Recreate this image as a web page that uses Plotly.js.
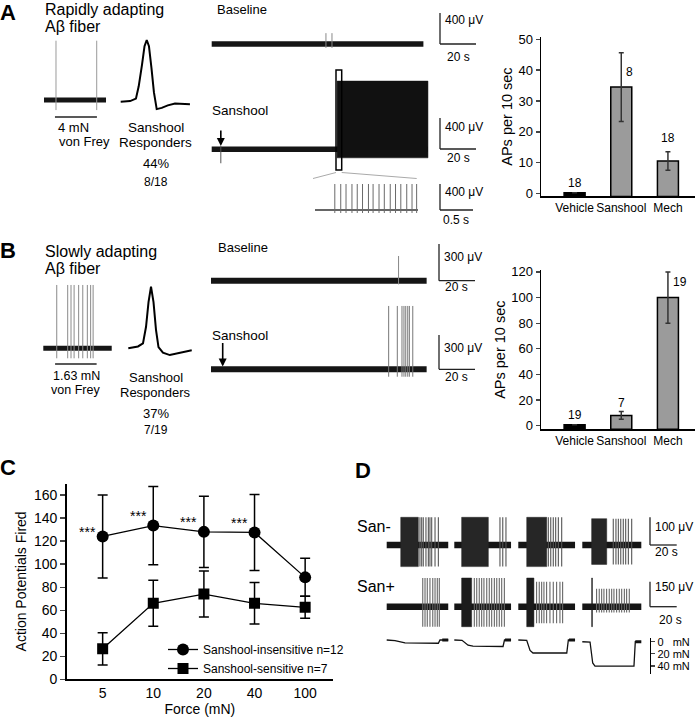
<!DOCTYPE html>
<html><head><meta charset="utf-8">
<script src="https://cdn.plot.ly/plotly-3.0.1.min.js"></script>
<style>html,body{margin:0;padding:0;background:#fff}#chart{width:695px;height:720px}</style>
</head><body><div id="chart"></div>
<script>
// ================= DATA =================
// Bar charts (A, B)
const barCats = ['Vehicle', 'Sanshool', 'Mech'];
const aAPs = [0.3, 34.5, 10.6];
const aErr = [0, 11.1, 3.0];
const aN = ['18', '8', '18'];
const bAPs = [0.8, 8, 100];
const bErr = [0, 3, 20];
const bN = ['19', '7', '19'];

// Line chart (C)
const forceCats = ['5', '10', '20', '40', '100'];
const insensMean = [124, 133.5, 128, 127.5, 88.5];
const insensErr = [36, 34, 31, 33, 16.5];
const sensMean = [26.5, 66, 74, 66, 62.5];
const sensErr = [14, 20, 20, 18, 9.5];
const sigMarks = ['***', '***', '***', '***'];

// A recordings (time in s, amplitude in uV)
const aVfDur = 3.0, aVfSpikes = [0.58, 2.55], aVfStim = [0.53, 2.56];
const aVfTop = 765, aVfBot = -130;
const aWaveT = [0, 0.34, 0.55, 0.65, 0.77, 0.86, 0.94, 1.02, 1.11, 1.2, 1.3, 1.48, 1.7, 1.96, 2.5];   // ms
const aWaveV = [0, 0.01, 0.05, 0.25, 0.6, 0.9, 1.0, 0.9, 0.55, 0.15, -0.12, -0.1, -0.06, -0.03, -0.04]; // normalised
const aBaseDur = 116, aBaseSpikes = [62.6, 65.9], aBaseTop = 140, aBaseBot = -50;
const aSanDur = 118.5, aSanOnset = 68.7, aSanTop = 880, aSanBot = -110;
const aSanApplied = 5.0, aSanArtifact = -180;
const aZoomDur = 1.56;
const aZoomSpikes = [0.30, 0.39, 0.47, 0.56, 0.64, 0.72, 0.81, 0.88, 0.97, 1.05, 1.14, 1.22, 1.30, 1.39, 1.47, 1.54];
const aZoomTop = 400, aZoomBot = -46;

// B recordings
const bVfDur = 3.31, bVfSpikes = [0.65, 1.18, 1.34, 1.49, 1.71, 1.91, 2.13, 2.29, 2.41], bVfStim = [0.57, 2.58];
const bVfTop = 817, bVfBot = -129;
const bWaveT = [0, 0.35, 0.53, 0.64, 0.73, 0.82, 0.91, 1.0, 1.09, 1.25, 1.5, 1.79, 2.05, 2.29];
const bWaveV = [0, 0.03, 0.08, 0.35, 0.75, 1.0, 0.75, 0.3, 0.02, -0.07, -0.11, -0.08, -0.05, -0.03];
const bBaseDur = 119.8, bBaseSpikes = [104.2], bBaseTop = 202, bBaseBot = -30;
const bSanDur = 119.8, bSanSpikes = [98.7, 103.5, 106.1, 107.2, 108.2, 109.3, 110.2, 112.1];
const bSanTop = 554, bSanBot = -65, bSanApplied = 6.5;

// D recordings (4 trials: 5, 10, 20, 40 mN)
const dDur = [46.1, 42.5, 42.5, 44.2];
const dNegBurst = [[10.5, 23.7], [5.5, 25.5], [6.3, 21.3], [7.0, 18.3]];
const dNegSpikes = [
  [24.9, 26.2, 27.4, 29.4, 31.2, 32.4, 33.7, 36.2, 38.7],
  [34.2, 36.3, 38.7],
  [22.5, 24.3, 26.2, 28.0, 30.0, 32.5],
  [23.2, 25.2, 27.0, 28.8, 30.7, 32.5, 34.5, 37.0]];
const dNegTop = [100, 100, 100, 95], dNegBot = [-78, -78, -78, -70];
const dPosBurst = [null, [5.5, 13.0], [6.3, 11.7], [7.0, 7.6]];
const dPosSpikes = [
  [27.0, 28.7, 30.4, 32.4, 34.5, 36.2, 37.9, 39.4],
  [15.0, 16.8, 18.7, 20.5, 22.2, 24.3, 26.2, 28.0, 30.0, 31.8, 33.7, 35.5, 37.5],
  [13.7, 15.7, 17.5, 19.2, 21.2, 23.7, 26.2, 28.7, 31.2, 33.2],
  [10.7, 12.7, 14.5, 16.2, 18.2, 20.2, 22.0, 23.7, 25.7, 27.7, 29.5, 31.5, 33.2, 35.2]];
const dPosTop = [172, 172, 150, 108], dPosBot = [-120, -120, -100, -35];
const dPosBurstTop = [0, 172, 172, 172], dPosBurstBot = [0, -120, -120, -120];
const dForceT = [
  [0, 6.2, 13.7, 38.7, 39.9, 46.1],
  [0, 5.8, 10.3, 14.0, 36.5, 37.6, 42.5],
  [0, 6.3, 8.8, 11.0, 36.3, 37.5, 42.5],
  [0, 5.8, 7.8, 9.5, 38.7, 39.7, 44.0]];
const dForceV = [
  [0, 1, 4.5, 5, 0, 0],
  [0, 0.5, 8, 9.5, 10, 0, 0],
  [0, 0.5, 16, 20, 20, 0, 0],
  [0, 0.5, 35, 40, 40, 0, 0]];
const forceTicks = [0, 20, 40];
const forceTickText = ['0\u00a0\u00a0\u00a0mN', '20 mN', '40 mN'];

// ================= LAYOUT HELPERS =================
const W = 695, H = 720;
const FONT = 'Liberation Sans, Arial, Helvetica, sans-serif';
const fx = p => p / W, fy = p => 1 - p / H;
const layout = {
  width: W, height: H, margin: {l: 0, r: 0, t: 0, b: 0},
  paper_bgcolor: '#fff', plot_bgcolor: 'rgba(0,0,0,0)',
  font: {family: FONT, color: '#000', size: 13},
  showlegend: true, shapes: [], annotations: []
};
const data = [];
let axCount = 3;
function makeAxes(bx, by) {
  axCount++; const n = axCount;
  layout['xaxis' + n] = {domain: [fx(bx.p0), fx(bx.p1)], range: [(bx.p0 - bx.o) / bx.s, (bx.p1 - bx.o) / bx.s],
    visible: false, fixedrange: true, anchor: 'y' + n};
  layout['yaxis' + n] = {domain: [fy(by.p1), fy(by.p0)], range: [(by.o - by.p1) / by.s, (by.o - by.p0) / by.s],
    visible: false, fixedrange: true, anchor: 'x' + n};
  return {x: 'x' + n, y: 'y' + n, n: n};
}
function line(ax, x, y, color, w) {
  data.push({type: 'scatter', mode: 'lines', xaxis: ax.x, yaxis: ax.y, x: x, y: y,
    line: {color: color, width: w}, showlegend: false, hoverinfo: 'skip', connectgaps: false});
}
function band(ax, dur, w) { line(ax, [0, dur], [0, 0], '#151515', w); }
function spikes(ax, times, top, bot, color, w) {
  const x = [], y = [];
  times.forEach(t => { x.push(t, t, null); y.push(bot, top, null); });
  line(ax, x, y, color, w);
}
function burst(ax, t0, t1, top, bot, color) {
  data.push({type: 'scatter', mode: 'lines', xaxis: ax.x, yaxis: ax.y,
    x: [t0, t1, t1, t0, t0], y: [bot, bot, top, top, bot], fill: 'toself', fillcolor: color,
    line: {color: color, width: 0.5}, showlegend: false, hoverinfo: 'skip'});
}
function txt(s, x, y, size, anchor, extra) {
  layout.annotations.push(Object.assign({text: s, xref: 'paper', yref: 'paper', x: fx(x), y: fy(y),
    xanchor: anchor || 'left', yanchor: 'middle', showarrow: false,
    font: {family: FONT, size: size, color: '#000'}}, extra || {}));
}
function seg(x0, y0, x1, y1, color, w) {
  layout.shapes.push({type: 'line', xref: 'paper', yref: 'paper', x0: fx(x0), y0: fy(y0), x1: fx(x1), y1: fy(y1),
    line: {color: color || '#222', width: w || 1.3}});
}
function scaleBar(x, yTop, yBot, xRight, vLabel, hLabel, vy, hx, hy) {
  seg(x, yTop, x, yBot); seg(x, yBot, xRight, yBot);
  txt(vLabel, x + 3, vy, 12, 'left');
  txt(hLabel, hx, hy, 12, 'center');
}

// ================= PANEL A / B BAR CHARTS =================
const A_BASE = -0.87, B_BASE = -2.8;
const axisCommon = {showline: true, linecolor: '#000', linewidth: 1.5, showgrid: false, zeroline: false, fixedrange: true};
layout.xaxis = Object.assign({}, axisCommon, {domain: [fx(541), fx(695)], range: [-0.72, 2.58], anchor: 'y',
  ticks: '', tickfont: {size: 12}});
layout.yaxis = Object.assign({}, axisCommon, {domain: [fy(196.4), fy(36.7)], range: [A_BASE, 50.8], anchor: 'x',
  tickvals: [0, 10, 20, 30, 40, 50], ticks: 'outside', ticklen: 4, tickwidth: 1.3, tickfont: {size: 13},
  title: {text: 'APs per 10 sec', font: {size: 14.5}, standoff: 2}});
layout.xaxis2 = Object.assign({}, axisCommon, {domain: [fx(541), fx(695)], range: [-0.72, 2.58], anchor: 'y2',
  ticks: '', tickfont: {size: 12}});
layout.yaxis2 = Object.assign({}, axisCommon, {domain: [fy(429.3), fy(270)], range: [B_BASE, 121.5], anchor: 'x2',
  tickvals: [0, 20, 40, 60, 80, 100, 120], ticks: 'outside', ticklen: 4, tickwidth: 1.3, tickfont: {size: 13},
  title: {text: 'APs per 10 sec', font: {size: 14.5}, standoff: 2}});

const barColors = ['#000', '#9b9b9b', '#9b9b9b'];
data.push({type: 'bar', x: barCats, y: aAPs.map(v => v - A_BASE), base: A_BASE, xaxis: 'x', yaxis: 'y',
  width: 0.45, marker: {color: barColors, line: {color: '#000', width: 1.5}},
  error_y: {type: 'data', array: aErr, color: '#333', thickness: 1.5, width: 2.5},
  showlegend: false, hoverinfo: 'skip'});
data.push({type: 'bar', x: barCats, y: bAPs.map(v => v - B_BASE), base: B_BASE, xaxis: 'x2', yaxis: 'y2',
  width: 0.45, marker: {color: barColors, line: {color: '#000', width: 1.5}},
  error_y: {type: 'data', array: bErr, color: '#333', thickness: 1.5, width: 2.5},
  showlegend: false, hoverinfo: 'skip'});
// n labels
const aLab = [{y: aAPs[0] + aErr[0], dy: 10, dx: 0}, {y: aAPs[1], dy: 15, dx: 8}, {y: aAPs[2] + aErr[2], dy: 13.5, dx: 0}];
const bLab = [{y: bAPs[0] + bErr[0], dy: 10, dx: 0}, {y: bAPs[1] + bErr[1], dy: 9, dx: 0}, {y: bAPs[2], dy: 16, dx: 12}];
aN.forEach((s, i) => layout.annotations.push({text: s, xref: 'x', yref: 'y', x: i, y: aLab[i].y, yshift: aLab[i].dy,
  xshift: aLab[i].dx, showarrow: false, font: {size: 12}, yanchor: 'middle'}));
bN.forEach((s, i) => layout.annotations.push({text: s, xref: 'x2', yref: 'y2', x: i, y: bLab[i].y, yshift: bLab[i].dy,
  xshift: bLab[i].dx, showarrow: false, font: {size: 12}, yanchor: 'middle'}));

// ================= PANEL C =================
layout.xaxis3 = Object.assign({}, axisCommon, {domain: [fx(66.7), fx(333)], range: [-0.71, 4.55], anchor: 'y3',
  type: 'category', ticks: '', tickfont: {size: 14}, title: {text: 'Force (mN)', font: {size: 14}, standoff: 4}});
layout.yaxis3 = Object.assign({}, axisCommon, {domain: [fy(679.3), fy(483.5)], range: [0, 170], anchor: 'x3',
  tickvals: [0, 20, 40, 60, 80, 100, 120, 140, 160], ticks: 'outside', ticklen: 5, tickwidth: 1.3,
  tickfont: {size: 14}, title: {text: 'Action Potentials Fired', font: {size: 14}, standoff: 4}});
data.push({type: 'scatter', mode: 'lines+markers', name: 'Sanshool-insensitive n=12', x: forceCats, y: insensMean,
  xaxis: 'x3', yaxis: 'y3', line: {color: '#000', width: 1.3}, marker: {symbol: 'circle', size: 12, color: '#000'},
  error_y: {type: 'data', array: insensErr, color: '#000', thickness: 1.5, width: 5}, hoverinfo: 'skip'});
data.push({type: 'scatter', mode: 'lines+markers', name: 'Sanshool-sensitive n=7', x: forceCats, y: sensMean,
  xaxis: 'x3', yaxis: 'y3', line: {color: '#000', width: 1.3}, marker: {symbol: 'square', size: 11, color: '#000'},
  error_y: {type: 'data', array: sensErr, color: '#000', thickness: 1.5, width: 5}, hoverinfo: 'skip'});
layout.legend = {x: fx(163), y: fy(635), xanchor: 'left', yanchor: 'top', bgcolor: 'rgba(0,0,0,0)',
  font: {size: 12, family: FONT}, tracegroupgap: 0};
const sigY = [128, 142, 136.5, 135.5];
sigMarks.forEach((s, i) => layout.annotations.push({text: s, xref: 'x3', yref: 'y3', x: i, y: sigY[i], xshift: -15,
  showarrow: false, font: {size: 14}, yanchor: 'middle'}));

// ================= PANEL A traces =================
const GS = 1 / 12.9; // px per uV for A large recordings
const axAvf = makeAxes({p0: 40, p1: 110, o: 44, s: 20.67}, {p0: 30, p1: 125, o: 100, s: GS});
band(axAvf, aVfDur, 5);
spikes(axAvf, aVfSpikes, aVfTop, aVfBot, '#9a9a9a', 1);
layout.shapes.push({type: 'line', xref: axAvf.x, yref: 'paper', x0: aVfStim[0], x1: aVfStim[1], y0: fy(117), y1: fy(117), line: {color: '#222', width: 1.3}});
const axAw = makeAxes({p0: 115, p1: 195, o: 120.7, s: 27.7}, {p0: 30, p1: 125, o: 101.7, s: 61.7});
line(axAw, aWaveT, aWaveV, '#000', 2);

const axAb = makeAxes({p0: 205, p1: 432, o: 211.7, s: 1.825}, {p0: 20, p1: 60, o: 44, s: GS});
band(axAb, aBaseDur, 5.5);
spikes(axAb, aBaseSpikes, aBaseTop, aBaseBot, '#888', 1);
const axAs = makeAxes({p0: 205, p1: 432, o: 211.7, s: 1.825}, {p0: 70, p1: 175, o: 149.3, s: GS});
band(axAs, aSanDur, 5.5);
burst(axAs, aSanOnset, aSanDur, aSanTop, aSanBot, '#111');
spikes(axAs, [aSanApplied], 40, aSanArtifact, '#555', 1);
layout.annotations.push({xref: axAs.x, yref: axAs.y, x: aSanApplied, y: 42, ax: 0, ay: -17, text: '', showarrow: true,
  arrowhead: 2, arrowsize: 1, arrowwidth: 1.6, arrowcolor: '#000'});
const axAz = makeAxes({p0: 310, p1: 425, o: 315, s: 66}, {p0: 178, p1: 218, o: 210, s: 26 / 400});
line(axAz, [0, aZoomDur], [0, 0], '#333', 1.6);
spikes(axAz, aZoomSpikes, aZoomTop, aZoomBot, '#6a6a6a', 1);
// highlight box + zoom guide lines
layout.shapes.push({type: 'rect', xref: 'paper', yref: 'paper', x0: fx(336), x1: fx(341.7), y0: fy(170), y1: fy(70),
  line: {color: '#000', width: 1.5}, fillcolor: 'rgba(0,0,0,0)'});
seg(336, 172.5, 313, 178.5, '#aaa', 1);
seg(341.7, 172.5, 416.7, 178.5, '#aaa', 1);

// ================= PANEL B traces =================
const axBvf = makeAxes({p0: 40, p1: 115, o: 43.3, s: 20.67}, {p0: 280, p1: 365, o: 348.3, s: GS});
band(axBvf, bVfDur, 5);
spikes(axBvf, bVfSpikes, bVfTop, bVfBot, '#8a8a8a', 1);
layout.shapes.push({type: 'line', xref: axBvf.x, yref: 'paper', x0: bVfStim[0], x1: bVfStim[1], y0: fy(364), y1: fy(364), line: {color: '#222', width: 1.3}});
const axBw = makeAxes({p0: 125, p1: 195, o: 128.3, s: 27.7}, {p0: 280, p1: 365, o: 348.3, s: 61.6});
line(axBw, bWaveT, bWaveV, '#000', 2);
const axBb = makeAxes({p0: 205, p1: 432, o: 211, s: 1.8}, {p0: 250, p1: 295, o: 280.7, s: 36.7 / 300});
band(axBb, bBaseDur, 6);
spikes(axBb, bBaseSpikes, bBaseTop, bBaseBot, '#888', 1);
const axBs = makeAxes({p0: 205, p1: 432, o: 211, s: 1.8}, {p0: 300, p1: 385, o: 369.3, s: 34.3 / 300});
band(axBs, bSanDur, 6);
spikes(axBs, bSanSpikes, bSanTop, bSanBot, '#777', 1);
layout.annotations.push({xref: axBs.x, yref: axBs.y, x: bSanApplied, y: 24, ax: 0, ay: -25, text: '', showarrow: true,
  arrowhead: 2, arrowsize: 1, arrowwidth: 1.6, arrowcolor: '#000'});

// ================= PANEL D traces =================
const dCols = [[386.7, 448.3], [454.3, 511], [518.3, 575], [582.3, 641]];
const D_S = 1.335;
dCols.forEach((c, i) => {
  const axN = makeAxes({p0: c[0] - 2, p1: c[1] + 2, o: c[0], s: D_S}, {p0: 512, p1: 572, o: 545, s: 27.7 / 100});
  band(axN, dDur[i], 6.5);
  burst(axN, dNegBurst[i][0], dNegBurst[i][1], dNegTop[i], dNegBot[i], '#262626');
  spikes(axN, dNegSpikes[i], dNegTop[i], dNegBot[i], '#555', 1.1);
  const axP = makeAxes({p0: c[0] - 2, p1: c[1] + 2, o: c[0], s: D_S}, {p0: 574, p1: 632, o: 606.7, s: 25 / 150});
  band(axP, dDur[i], 6.5);
  if (dPosBurst[i]) burst(axP, dPosBurst[i][0], dPosBurst[i][1], dPosBurstTop[i], dPosBurstBot[i], '#1c1c1c');
  spikes(axP, dPosSpikes[i], dPosTop[i], dPosBot[i], '#666', 1.1);
  const axF = makeAxes({p0: c[0] - 2, p1: c[1] + 2, o: c[0], s: D_S}, {p0: 636, p1: 674, o: 640, s: 0.65});
  // force increases downward
  const fy0 = layout['yaxis' + axF.n].range;
  layout['yaxis' + axF.n].range = [-fy0[0], -fy0[1]];
  line(axF, dForceT[i], dForceV[i], '#111', 1.3);
  line(axF, [dDur[i] - 4.5, dDur[i]], [0, 0], '#111', 3);
  if (i === 3) {
    Object.assign(layout['yaxis' + axF.n], {visible: true, anchor: 'free', position: fx(650), side: 'right',
      showline: true, linecolor: '#000', linewidth: 1.2, ticks: 'outside', ticklen: 4, tickwidth: 1.2,
      tickvals: forceTicks, ticktext: forceTickText, tickfont: {size: 11}, showgrid: false, zeroline: false,
      domain: [fy(673.5), fy(638)]});
  }
});

// ================= TEXT / SCALE BARS =================
txt('<b>A</b>', 8, 12, 22, 'center');
txt('<b>B</b>', 8, 250, 22, 'center');
txt('<b>C</b>', 8, 467, 22, 'center');
txt('<b>D</b>', 363, 470, 22, 'center');

txt('Rapidly adapting', 42.7, 10, 16);
txt('A\u03b2 fiber', 42.7, 26.5, 16);
txt('4 mN', 56, 127.7, 13);
txt('von Frey', 56.7, 141.7, 13);
txt('Sanshool', 155.7, 127.7, 13.5, 'center');
txt('Responders', 155.7, 142.7, 13.5, 'center');
txt('44%', 155.7, 164, 13, 'center');
txt('8/18', 155.7, 181.7, 12, 'center');
txt('Baseline', 215, 9.3, 13);
txt('Sanshool', 210, 110, 13.5);

txt('Slowly adapting', 43.3, 251.7, 16);
txt('A\u03b2 fiber', 43.3, 268.3, 16);
txt('1.63 mN', 76, 376.2, 12.5, 'center');
txt('von Frey', 75, 390, 12.5, 'center');
txt('Sanshool', 155.7, 377.5, 13, 'center');
txt('Responders', 155.7, 392.2, 13, 'center');
txt('37%', 155.7, 413.3, 13, 'center');
txt('7/19', 155.7, 430, 12, 'center');
txt('Baseline', 216, 247.3, 13);
txt('Sanshool', 210, 335, 13.5);

txt('San-', 355, 526.7, 16);
txt('San+', 355, 586.7, 16);

scaleBar(440, 13, 44, 476, '400 \u03bcV', '20 s', 20, 458, 57);
scaleBar(440, 118, 149, 476, '400 \u03bcV', '20 s', 127, 458, 158);
scaleBar(440, 184, 210, 473, '400 \u03bcV', '0.5 s', 192, 456, 220);
scaleBar(439, 244, 280.7, 475, '300 \u03bcV', '20 s', 256.7, 457, 287);
scaleBar(439, 335, 369.3, 475, '300 \u03bcV', '20 s', 348.3, 457, 377);
scaleBar(650, 517.3, 545, 676.7, '100 \u03bcV', '20 s', 527.3, 666, 552);
scaleBar(650, 581.7, 606.7, 676.7, '150 \u03bcV', '20 s', 586.7, 670, 620);

Plotly.newPlot('chart', data, layout, {staticPlot: true, displayModeBar: false});
</script></body></html>
